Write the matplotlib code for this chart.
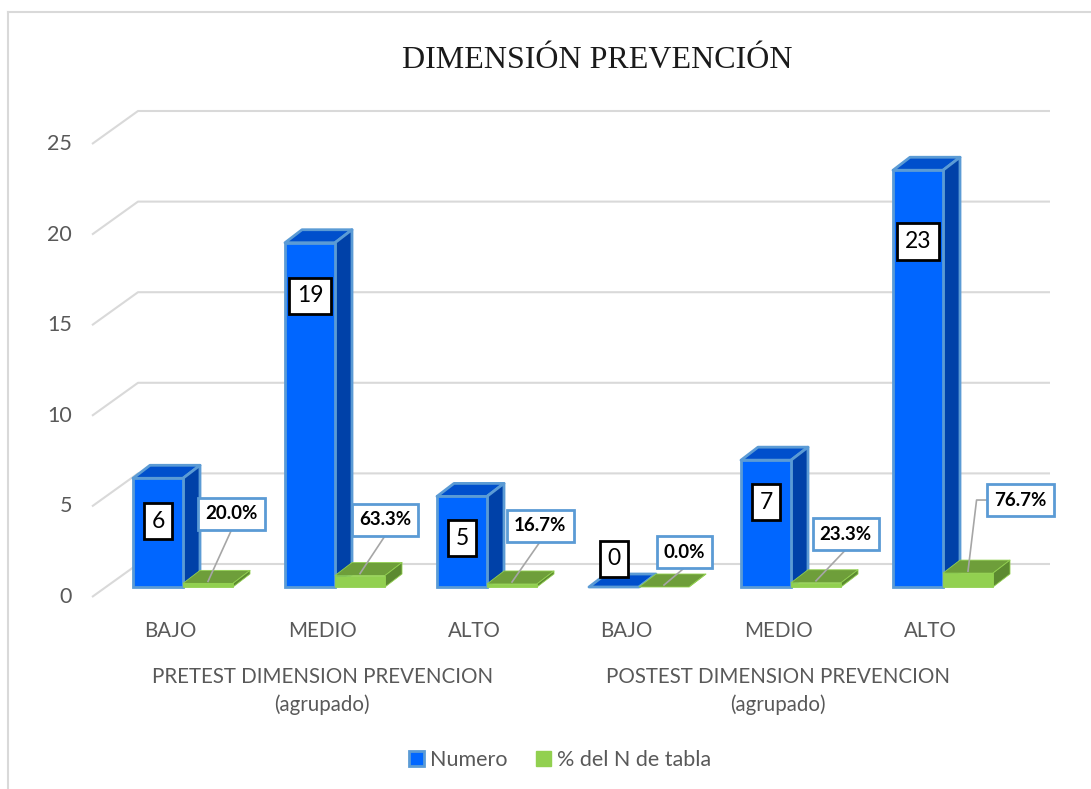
import matplotlib
matplotlib.use("Agg")
import matplotlib.pyplot as plt
from matplotlib.patches import Rectangle, Polygon, Patch
from matplotlib.lines import Line2D

# ---------------- data ----------------
categories = ["BAJO", "MEDIO", "ALTO", "BAJO", "MEDIO", "ALTO"]
groups = ["PRETEST DIMENSION PREVENCION\n(agrupado)",
          "POSTEST DIMENSION PREVENCION\n(agrupado)"]
group_members = [[0, 1, 2], [3, 4, 5]]
numero = [6, 19, 5, 0, 7, 23]
pct_tabla = [20.0, 63.3, 16.7, 0.0, 23.3, 76.7]
yticks = [0, 5, 10, 15, 20, 25]
title = "DIMENSIÓN PREVENCIÓN"
series_names = ["Numero", "% del N de tabla"]

# label placement (layout only)
num_label_y = [3.64, 16.06, 2.70, 1.55, 4.69, 19.07]
pct_label_dx = [0.32, 0.33, 0.35, 0.30, 0.36, 0.51]
pct_label_y = [4.03, 3.70, 3.37, 1.93, 2.92, 4.80]

# ---------------- geometry / style ----------------
W, H = 1091, 789
PX_X = 152.0     # px per category
PX_Y = 18.12     # px per value unit
X0 = 183.0       # px of first category
Y0 = 587.0       # px of baseline (from top)

BW = 50 / PX_X           # bar width
DDX = 17 / PX_X          # bar depth offset x
DDY = 13 / PX_Y          # bar depth offset y
BACK = 23 / PX_Y         # back wall offset (value units)
FRONT = -10 / PX_Y       # front floor offset (value units)
GX_FRONT = (92 - X0) / PX_X
GX_BACK = (138 - X0) / PX_X
GX_END = (1050 - X0) / PX_X

BLUE = dict(front="#0066FF", top="#004FCC", side="#0041A8", edge="#5B9BD5")
GREEN = dict(front="#92D050", top="#6E9E3A", side="#5C8A30", edge="#92D050")
GRID = "#D9D9D9"
TXT = "#595959"
FONT = "Lato"

fig = plt.figure(figsize=(W / 100, H / 100), dpi=100)
ax = fig.add_axes([0, 0, 1, 1])
ax.set_xlim(-X0 / PX_X, (W - X0) / PX_X)
ax.set_ylim((Y0 - H) / PX_Y, Y0 / PX_Y)
ax.axis("off")

# border (top and left visible)
fig.add_artist(Line2D([8 / W, 1], [1 - 12 / H, 1 - 12 / H], color=GRID, lw=1.5))
fig.add_artist(Line2D([8 / W, 8 / W], [0, 1 - 12 / H], color=GRID, lw=1.5))

# gridlines in perspective
for v in yticks:
    ax.plot([GX_FRONT, GX_BACK, GX_END], [v + FRONT, v + BACK, v + BACK],
            color=GRID, lw=1.5, zorder=1, solid_capstyle="butt")
    ax.text(GX_FRONT - 0.13, v + FRONT, str(v), ha="right", va="center",
            fontsize=15.5, color=TXT, family=FONT)


def bar3d(x0, w, h, c, lw):
    ax.add_patch(Polygon([(x0, h), (x0 + w, h), (x0 + w + DDX, h + DDY),
                          (x0 + DDX, h + DDY)], closed=True, facecolor=c["top"],
                         edgecolor=c["edge"], lw=lw, zorder=3, joinstyle="round"))
    ax.add_patch(Polygon([(x0 + w, 0), (x0 + w + DDX, DDY), (x0 + w + DDX, h + DDY),
                          (x0 + w, h)], closed=True, facecolor=c["side"],
                         edgecolor=c["edge"], lw=lw, zorder=3, joinstyle="round"))
    if h > 0:
        ax.add_patch(Rectangle((x0, 0), w, h, facecolor=c["front"],
                               edgecolor=c["edge"], lw=lw, zorder=3))


pct_texts = []
for i, (n, p) in enumerate(zip(numero, pct_tabla)):
    bar3d(i - BW, BW, n, BLUE, 2.0)
    bar3d(i, BW, p / 100.0, GREEN, 0.6)
    ax.text(i - BW / 2, num_label_y[i], str(n), ha="center", va="center",
            fontsize=16.5, family=FONT, color="black", zorder=6,
            bbox=dict(boxstyle="square,pad=0.33", facecolor="white",
                      edgecolor="black", lw=2))
    t = ax.text(i + pct_label_dx[i], pct_label_y[i], f"{p:.1f}%", ha="center",
                va="center", fontsize=13.5, fontweight="bold", family=FONT,
                color="black", zorder=6,
                bbox=dict(boxstyle="square,pad=0.38", facecolor="white",
                          edgecolor="#5B9BD5", lw=2))
    pct_texts.append(t)
    # category label
    ax.text(i - 0.085, (Y0 - 631) / PX_Y, categories[i], ha="center", va="center",
            fontsize=14.8, family=FONT, color=TXT)

for g, members in zip(groups, group_members):
    xc = sum(members) / len(members) - 0.085
    ax.text(xc, (Y0 - 691) / PX_Y, g, ha="center", va="center", fontsize=14.8,
            family=FONT, color=TXT, linespacing=1.5)

# leader lines
fig.canvas.draw()
inv = ax.transData.inverted()
for i, (p, t) in enumerate(zip(pct_tabla, pct_texts)):
    bb = t.get_bbox_patch().get_window_extent()
    (l, b), (r, tp) = inv.transform([[bb.x0, bb.y0], [bb.x1, bb.y1]])
    tx, ty = i + BW / 2, p / 100.0 + DDY * 0.15
    if tx < l:
        ym = (b + tp) / 2
        xs = [l, l - 0.07, tx]
        ys = [ym, ym, ty]
    else:
        xs = [(l + r) / 2, tx]
        ys = [b, ty]
    ax.plot(xs, ys, color="#A6A6A6", lw=1.2, zorder=5)

# title
fig.text(597 / W, 1 - 60 / H, title, ha="center", va="center", fontsize=23,
         family="Liberation Serif", color="#1a1a1a")

# legend
handles = [Patch(facecolor=BLUE["front"], edgecolor=BLUE["edge"], lw=2),
           Patch(facecolor=GREEN["front"], edgecolor=GREEN["front"])]
fig.legend(handles, series_names, loc="center",
           bbox_to_anchor=(560 / W, 1 - 760 / H), ncol=2, frameon=False,
           handlelength=0.7, handleheight=0.7, handletextpad=0.3,
           columnspacing=1.3, prop=dict(family=FONT, size=15.5),
           labelcolor=TXT)

fig.savefig("out.png", dpi=100)
